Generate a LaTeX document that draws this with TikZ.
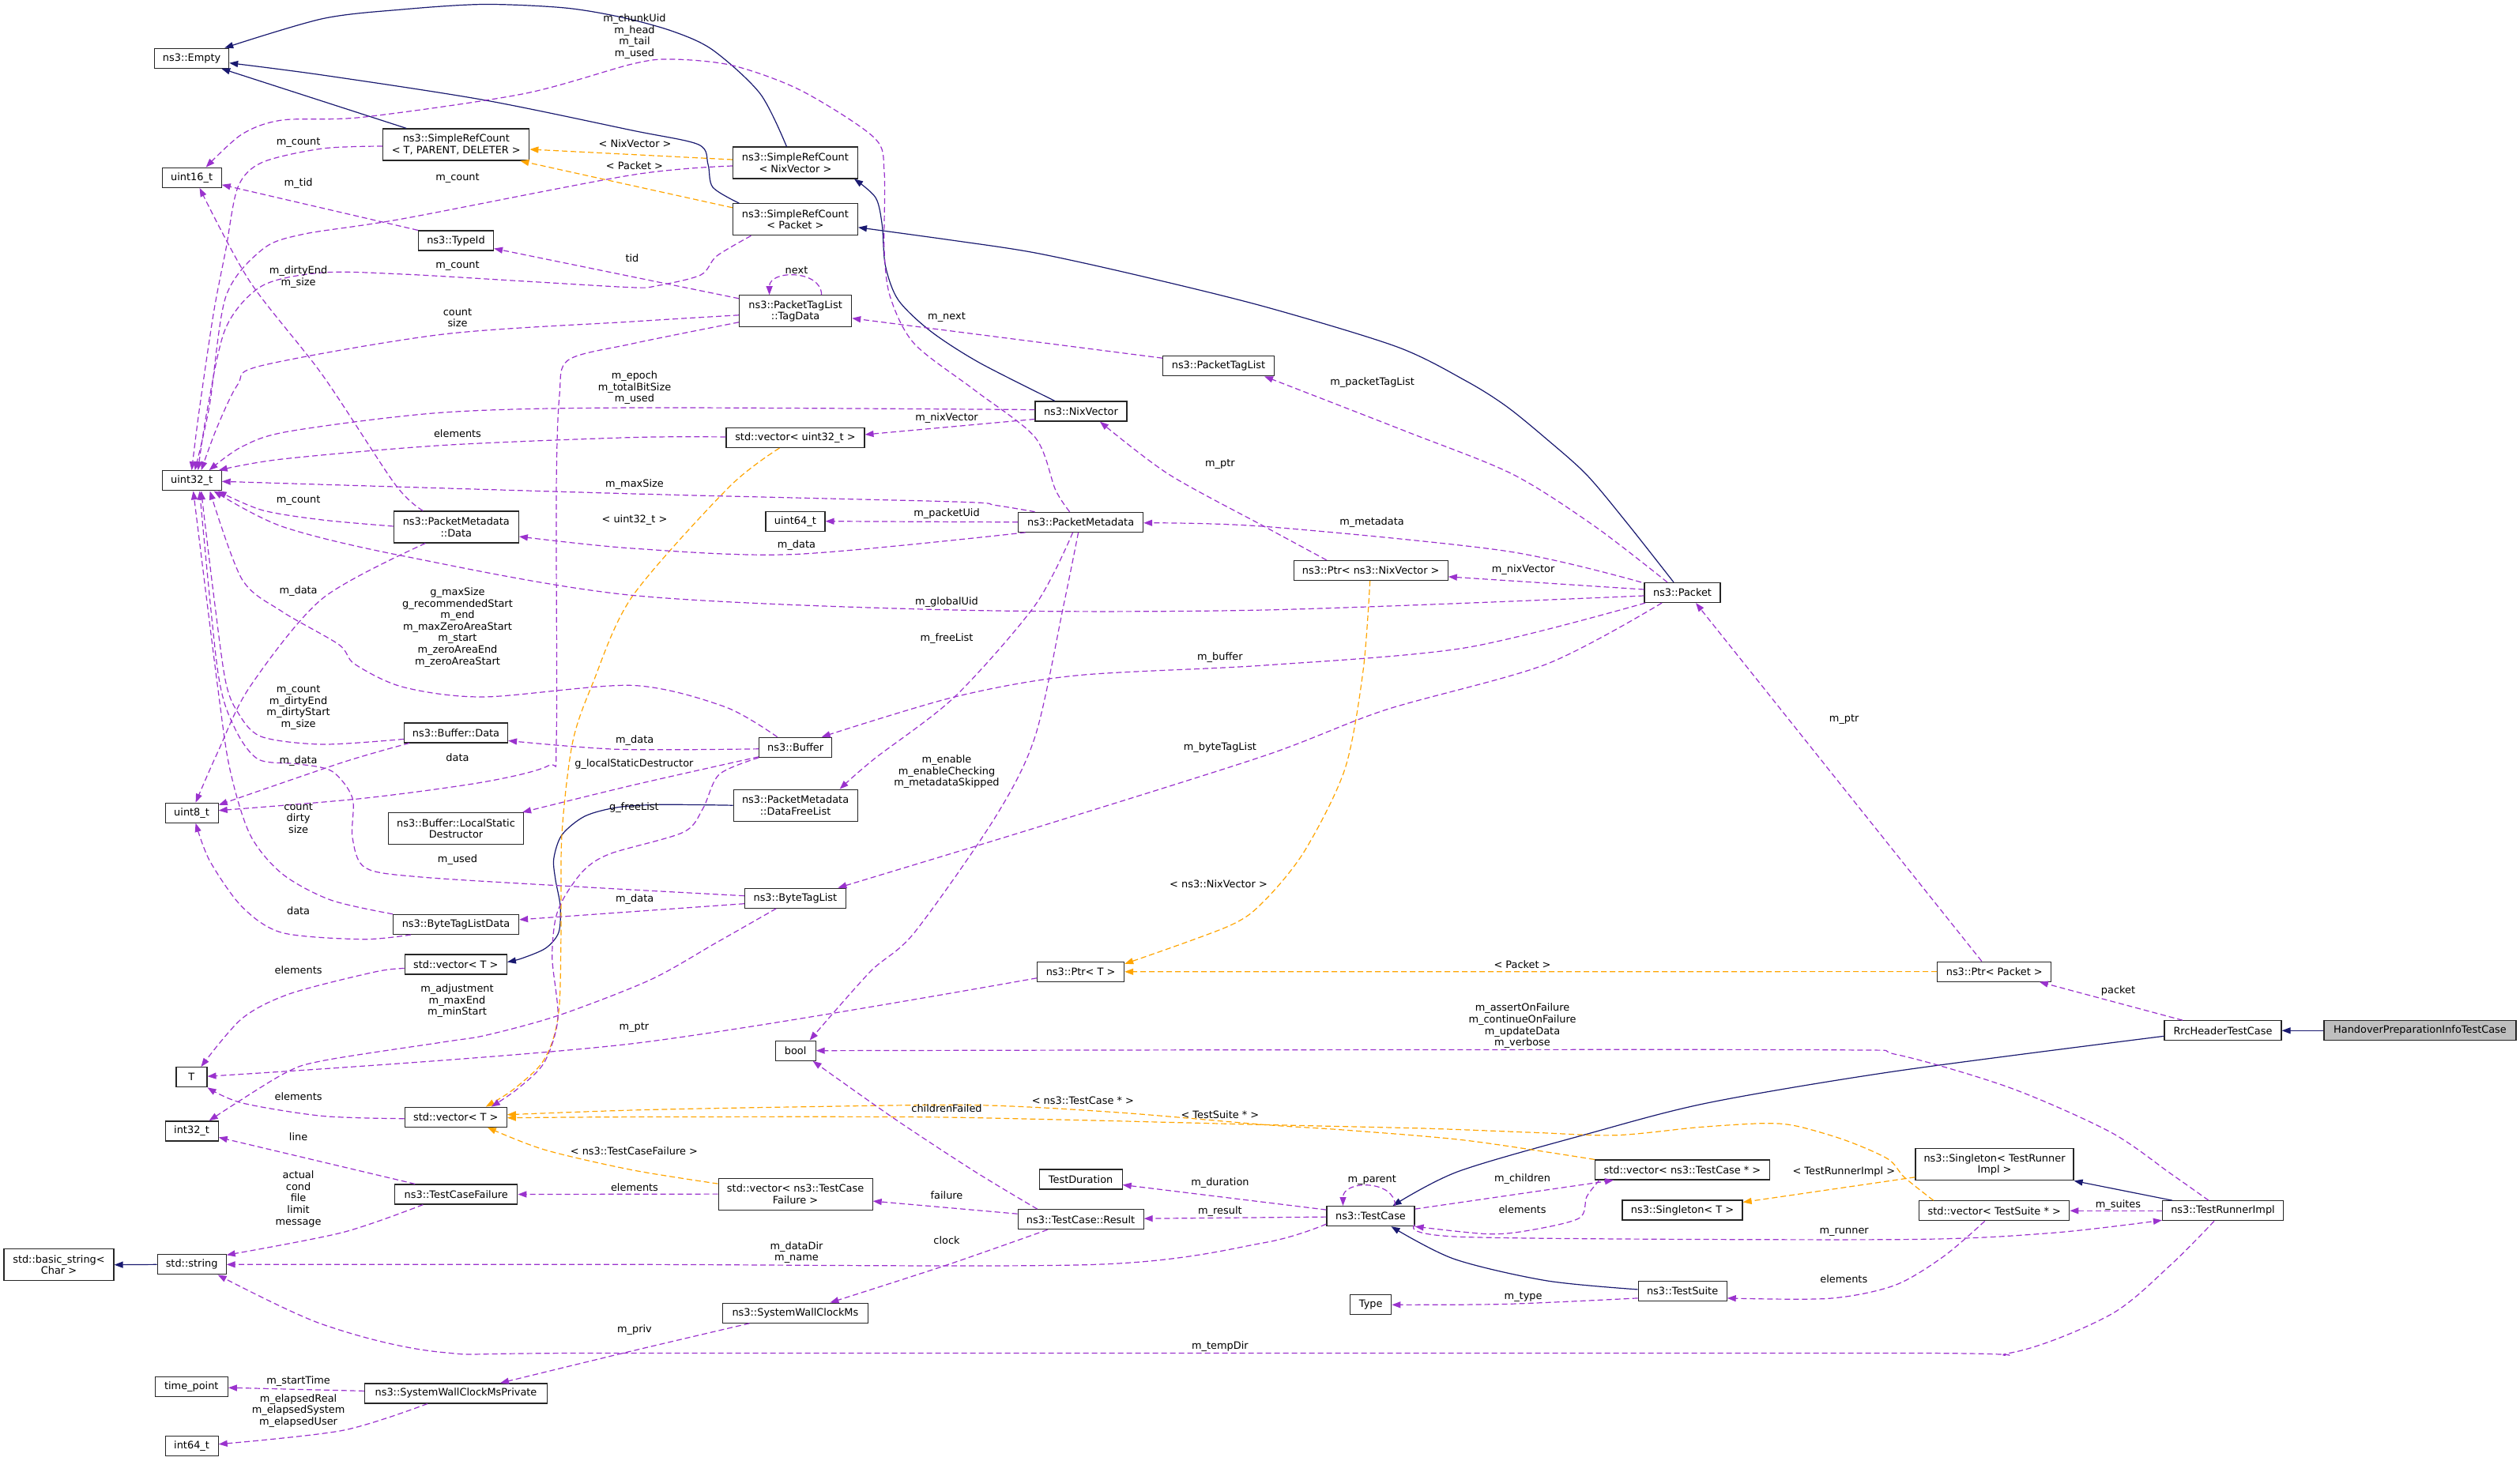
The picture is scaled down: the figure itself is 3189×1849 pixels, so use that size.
\documentclass[tikz,border=0pt]{standalone}
\usepackage{fontspec}
\setmainfont{DejaVu Sans}
\usepackage{tikz}
\usetikzlibrary{arrows.meta}
\definecolor{memcol}{HTML}{9A32CD}
\definecolor{inhcol}{HTML}{191970}
\definecolor{tplcol}{HTML}{FFA500}
\tikzset{>={Triangle[length=11pt,width=8pt]}}
\tikzset{cls/.style={draw=black!85, line width=1.2pt, fill=white, inner xsep=3pt, inner ysep=0pt, minimum height=25pt, align=center}}
\tikzset{cls2/.style={cls, minimum height=40pt}}
\tikzset{mem/.style={->, draw=memcol, line width=1.2pt, dash pattern=on 7pt off 4pt}}
\tikzset{tpl/.style={->, draw=tplcol, line width=1.2pt, dash pattern=on 7pt off 4pt}}
\tikzset{inh/.style={->, draw=inhcol, line width=1.2pt}}
\tikzset{lbl/.style={align=center, inner sep=0pt}}

\begin{document}
\begin{tikzpicture}[x=1pt, y=-1pt, font=\fontsize{12.9}{14.6}\selectfont]
\fill[white] (0,0) rectangle (3189,1849);
\useasboundingbox (0,0) rectangle (3189,1849);
% classes
\node[cls, minimum width=94pt] (emp) at (242.6,73.7) {ns3::Empty};
\node[cls, minimum width=75pt] (u16) at (242.6,224.8) {uint16\_t};
\node[cls2, minimum width=185pt] (srcT) at (577.3,183) {ns3::SimpleRefCount\\< T, PARENT, DELETER >};
\node[cls, minimum width=95pt] (typeid) at (577,304.5) {ns3::TypeId};
\node[cls, minimum width=75pt] (u32) at (242.6,608.3) {uint32\_t};
\node[cls2, minimum width=158pt] (srcNix) at (1006.4,206) {ns3::SimpleRefCount\\< NixVector >};
\node[cls2, minimum width=158pt] (srcPkt) at (1006.4,277.8) {ns3::SimpleRefCount\\< Packet >};
\node[cls2, minimum width=142pt] (tagData) at (1006.6,393.8) {ns3::PacketTagList\\::TagData};
\node[cls, minimum width=141pt] (ptl) at (1542,463.2) {ns3::PacketTagList};
\node[cls, minimum width=116pt] (nixv) at (1367.9,520.5) {ns3::NixVector};
\node[cls, minimum width=175pt] (vecU32) at (1006.4,554) {std::vector< uint32\_t >};
\node[cls2, minimum width=158pt] (pmData) at (577.3,667) {ns3::PacketMetadata\\::Data};
\node[cls, minimum width=131pt] (bufData) at (577,927.4) {ns3::Buffer::Data};
\node[cls, minimum width=67pt] (u8) at (242.6,1028.7) {uint8\_t};
\node[cls2, minimum width=171pt] (lsd) at (577,1048.6) {ns3::Buffer::LocalStatic\\Destructor};
\node[cls, minimum width=159pt] (btld) at (577,1169.9) {ns3::ByteTagListData};
\node[cls, minimum width=129pt] (vecT1) at (576.8,1220.5) {std::vector< T >};
\node[cls, minimum width=75pt] (u64) at (1006.4,659.7) {uint64\_t};
\node[cls, minimum width=158pt] (pm) at (1367.6,660.8) {ns3::PacketMetadata};
\node[cls, minimum width=92pt] (buf) at (1006.7,945.8) {ns3::Buffer};
\node[cls2, minimum width=157pt] (dfl) at (1006.6,1019.2) {ns3::PacketMetadata\\::DataFreeList};
\node[cls, minimum width=128pt] (btl) at (1006.4,1136.7) {ns3::ByteTagList};
\node[cls, minimum width=110pt] (ptrT) at (1367.6,1229.8) {ns3::Ptr< T >};
\node[cls, minimum width=195pt] (ptrNix) at (1734.7,721.9) {ns3::Ptr< ns3::NixVector >};
\node[cls, minimum width=96pt] (pkt) at (2129,750) {ns3::Packet};
\node[cls, minimum width=39pt] (tT) at (242.4,1363.2) {T};
\node[cls, minimum width=67pt] (i32) at (242.6,1431.4) {int32\_t};
\node[cls, minimum width=129pt] (vecT2) at (576.8,1413.7) {std::vector< T >};
\node[cls, minimum width=155pt] (tcf) at (577.3,1511.5) {ns3::TestCaseFailure};
\node[cls2, minimum width=139pt] (bstr) at (74.5,1600.7) {std::basic\_string<\\Char >};
\node[cls, minimum width=87pt] (str) at (242.6,1600.3) {std::string};
\node[cls, minimum width=92pt] (tp) at (242.3,1755.2) {time\_point};
\node[cls, minimum width=231pt] (swcmp) at (577,1763.4) {ns3::SystemWallClockMsPrivate};
\node[cls, minimum width=67pt] (i64) at (242.6,1829.7) {int64\_t};
\node[cls, minimum width=51pt] (bool) at (1006.6,1329.7) {bool};
\node[cls2, minimum width=195pt] (vecTcf) at (1006.6,1511.1) {std::vector< ns3::TestCase\\Failure >};
\node[cls, minimum width=105pt] (tdur) at (1367.6,1492.5) {TestDuration};
\node[cls, minimum width=159pt] (res) at (1367.6,1543.2) {ns3::TestCase::Result};
\node[cls, minimum width=184pt] (swcm) at (1006.4,1661.7) {ns3::SystemWallClockMs};
\node[cls, minimum width=111pt] (tc) at (1734.5,1539.1) {ns3::TestCase};
\node[cls, minimum width=221pt] (vecTc) at (2128.9,1480.5) {std::vector< ns3::TestCase * >};
\node[cls, minimum width=152pt] (sgT) at (2129,1531.5) {ns3::Singleton< T >};
\node[cls, minimum width=112pt] (ts) at (2129.1,1633.9) {ns3::TestSuite};
\node[cls, minimum width=52pt] (typ) at (1734.7,1651.3) {Type};
\node[cls, minimum width=144pt] (ptrPkt) at (2523.8,1229.6) {ns3::Ptr< Packet >};
\node[cls, minimum width=148pt] (rrc) at (2813,1304.3) {RrcHeaderTestCase};
\node[cls, minimum width=243pt, fill=black!25] (hpi) at (3062.5,1304.3) {HandoverPreparationInfoTestCase};
\node[cls2, minimum width=200pt] (sgTri) at (2524,1473.8) {ns3::Singleton< TestRunner\\Impl >};
\node[cls, minimum width=190pt] (vecTs) at (2523.7,1532.3) {std::vector< TestSuite * >};
\node[cls, minimum width=153pt] (tri) at (2813,1532.3) {ns3::TestRunnerImpl};
% inheritance
\draw[inh] plot[smooth, tension=.5] coordinates {([xshift=-11pt]srcNix.north) (962,118.6) (902,63.3) (851,39.5) (785.7,21.7) (714,9.9) (612,5.5) (510,11.9) (408,23.7) ([xshift=-6pt]emp.north east)};
\draw[inh] plot[smooth, tension=.5] coordinates {([xshift=-71pt]srcPkt.north) (902,237) (896,208) (884,183) (800,165) (612,126.5) (408,95) ([yshift=-6pt]emp.east)};
\draw[inh] ([xshift=-63pt]srcT.north) -- ([xshift=-10pt]emp.south east);
\draw[inh] plot[smooth, tension=.5] coordinates {([xshift=-33pt]nixv.north) (1238.8,458.7) (1177.6,419.1) (1136.7,379.6) (1120.4,336) (1116.3,284.7) (1108,250) ([xshift=-5pt]srcNix.south east)};
\draw[inh] plot[smooth, tension=.5] coordinates {([xshift=-11pt]pkt.north) (2059,662) (2008,601) (1957,555.5) (1906,514) (1855,482) (1768,439) (1600,388) (1438,348) (1310,320) (1208,304.5) ([yshift=-10pt]srcPkt.east)};
\draw[inh] plot[smooth, tension=.5] coordinates {(dfl.west) (835.6,1018.3) (781.7,1021.7) (740,1033) (711,1056.7) (700.8,1086.7) (702.9,1113) (709,1146.7) (707,1180) (690.5,1200) (660,1213) ([yshift=3pt]vecT1.east)};
\draw[inh] (str.west) -- (bstr.east);
\draw[inh] plot[smooth, tension=.5] coordinates {([yshift=-7pt]rrc.west) (2400,1355.5) (2161,1395.8) (2008,1435.3) (1845,1482.7) ([xshift=28pt]tc.north)};
\draw[inh] (hpi.west) -- (rrc.east);
\draw[inh] plot[smooth, tension=.5] coordinates {([yshift=2pt]ts.west) (1957,1620.8) (1839.8,1593.2) ([xshift=26pt]tc.south)};
\draw[inh] ([xshift=-64pt]tri.north) -- (sgTri.south east);
% template instances
\draw[tpl] ([yshift=4pt]srcNix.west) -- ([yshift=-6pt]srcT.east);
\draw[tpl] ([yshift=15pt]srcPkt.west) -- ([xshift=-12pt]srcT.south east);
\draw[tpl] plot[smooth, tension=.5] coordinates {([xshift=-20pt]vecU32.south) (922,617) (800,755) (750,865) (724.5,940) (711,1056) (710,1180) (708,1270) (700,1315) (683.7,1348) (648,1380) ([xshift=38pt]vecT2.north)};
\draw[tpl] plot[smooth, tension=.5] coordinates {([xshift=-1pt]ptrNix.south) (1725,848.8) (1702,973) (1651,1076.8) (1600,1140) (1555,1172) ([yshift=10pt]ptrT.east)};
\draw[tpl] (ptrPkt.west) -- (ptrT.east);
\draw[tpl] plot[smooth, tension=.5] coordinates {([yshift=13pt]vecTcf.west) (800,1480.7) (688.8,1455) ([xshift=40pt]vecT2.south)};
\draw[tpl] plot[smooth, tension=.5] coordinates {(vecTc.north west) (1855,1443.2) (1700,1430) (1600,1423.4) (1412,1407.7) (1233.7,1398.6) (1000,1401) (800,1405) ([yshift=3pt]vecT2.east)};
\draw[tpl] plot[smooth, tension=.5] coordinates {([xshift=-77pt]vecTs.north) (2410,1490) (2389,1466.7) (2335,1443) (2273,1425) (2231.7,1421.7) (2148.8,1426.7) (2045,1436.7) (1941.5,1433.3) (1800,1428) (1600,1423.4) (1361,1417.5) (1157,1413.6) (800,1413.6) ([yshift=-1pt]vecT2.east)};
\draw[tpl] ([yshift=-16pt]sgTri.west) -- ([yshift=10pt]sgT.east);
% members
\draw[mem] plot[smooth, tension=.5] coordinates {([yshift=-2pt]srcT.west) (408,188) (331.6,205.6) (301,237) (285.7,316.3) (270.4,395.4) (252,520) (u32.north)};
\draw[mem] plot[smooth, tension=.5] coordinates {([yshift=-4pt]srcNix.west) (800,221.4) (510,276.8) (382.7,296.6) (331.6,316) (285.7,375.6) (265,514) ([xshift=4pt]u32.north)};
\draw[mem] plot[smooth, tension=.5] coordinates {([xshift=-56pt]srcPkt.south) (907,324) (886.7,348) (830.6,361.8) (800,363.8) (663,355.9) (510,347) (408,345) (331.6,361.8) (285.7,415) (262,520) ([xshift=8pt]u32.north)};
\draw[mem] (typeid.north west) -- ([yshift=-9pt]u16.east);
\draw[mem] ([yshift=16pt]tagData.west) -- ([yshift=-10pt]typeid.east);
\draw[mem] ([xshift=33pt]tagData.north) .. controls +(0,-32) and +(0,-32) .. ([xshift=-33pt]tagData.north);
\draw[mem] plot[smooth, tension=.5] coordinates {([yshift=-5pt]tagData.west) (800,407) (561,423) (331.6,462.6) (301,486.4) (275,540) ([xshift=12pt]u32.north)};
\draw[mem] plot[smooth, tension=.5] coordinates {([yshift=2pt]nixv.west) (800,516) (561,522) (367,545.7) (306,565.4) ([xshift=22pt]u32.north)};
\draw[mem] plot[smooth, tension=.5] coordinates {([yshift=1pt]vecU32.west) (800,553.6) (561,563.5) (357,581) ([xshift=-4pt]u32.north east)};
\draw[mem] ([yshift=-10pt]nixv.west) -- ([yshift=4pt]vecU32.east);
\draw[mem] ([yshift=10pt]ptl.west) -- ([yshift=-9pt]tagData.east);
\draw[mem] plot[smooth, tension=.5] coordinates {([xshift=-19pt]pkt.north) (2018,666) (1913.8,600) (1778.6,545.7) ([xshift=58pt]ptl.south)};
\draw[mem] plot[smooth, tension=.5] coordinates {([xshift=-56pt]ptrNix.north) (1600,666.3) (1478.6,600) ([xshift=24pt]nixv.south)};
\draw[mem] plot[smooth, tension=.5] coordinates {([xshift=-58pt]pm.north) (1259,639.4) (1208,635) (800,624.9) ([yshift=-1pt]u32.east)};
\draw[mem] (pm.west) -- (u64.east);
\draw[mem] plot[smooth, tension=.5] coordinates {([xshift=-70pt]pm.south) (1004,701.6) (800,694) ([yshift=-12pt]pmData.east)};
\draw[mem] plot[smooth, tension=.5] coordinates {([xshift=-10pt]pm.south) (1310,765.8) (1208,882) (1106,960.7) ([xshift=56pt]dfl.north)};
\draw[mem] plot[smooth, tension=.5] coordinates {([xshift=-3pt]pm.south) (1346,765.8) (1310,931.7) (1259,1035) (1157,1180.4) (1101,1230) ([xshift=18pt]bool.north)};
\draw[mem] plot[smooth, tension=.5] coordinates {([xshift=-14pt]pm.north) (1335.7,620) (1310,553.6) (1233.7,494) (1157,435) (1126.5,375.6) (1119,316) (1119,217.5) (1106,174) (1014,114.7) (927.6,83) (851,75) (800,81) (663,118.6) (459,148.3) (357,152) (306,170) ([xshift=18pt]u16.north)};
\draw[mem] plot[smooth, tension=.5] coordinates {([xshift=-52pt]pkt.north) (1906,697.4) (1600,666.3) ([yshift=-1pt]pm.east)};
\draw[mem] ([yshift=4pt]pkt.west) -- ([yshift=-8pt]ptrNix.east);
\draw[mem] plot[smooth, tension=.5] coordinates {([yshift=-4pt]pkt.west) (1600,772) (1208,772) (800,753.4) (510,703.6) (357,666.3) ([xshift=28pt]u32.south)};
\draw[mem] plot[smooth, tension=.5] coordinates {([xshift=-47pt]pkt.south) (1855,819.7) (1600,842) (1361,855) (1208,882) ([xshift=33pt]buf.north)};
\draw[mem] plot[smooth, tension=.5] coordinates {([xshift=-26pt]pkt.south) (1957,840.5) (1753,898.5) (1600,956.5) (1310,1047.8) ([xshift=54pt]btl.north)};
\draw[mem] ([xshift=-16pt]ptrPkt.north) -- ([xshift=17pt]pkt.south);
\draw[mem] ([xshift=-51pt]rrc.north) -- ([xshift=57pt]ptrPkt.south);
\draw[mem] plot[smooth, tension=.5] coordinates {([xshift=-23pt]buf.north) (917,894.4) (800,867.4) (612,882) (510,869.5) (449,840.5) (428.6,815.6) (357,774) (306,732.7) ([xshift=23pt]u32.south)};
\draw[mem] plot[smooth, tension=.5] coordinates {([yshift=-8pt]bufData.west) (408,942) (330,932) (300,900) (285,860) (270,750) ([xshift=12pt]u32.south)};
\draw[mem] plot[smooth, tension=.5] coordinates {([xshift=-59pt]bufData.south) (433.7,964.8) ([yshift=10pt]u8.east)};
\draw[mem] plot[smooth, tension=.5] coordinates {([yshift=-2pt]buf.west) (781.7,948.3) ([yshift=-10pt]bufData.east)};
\draw[mem] plot[smooth, tension=.5] coordinates {([yshift=-12pt]buf.west) (802.4,993.3) ([xshift=-2pt]lsd.north east)};
\draw[mem] plot[smooth, tension=.5] coordinates {(buf.south west) (910.2,980) (889.5,1023.3) (864.6,1053.3) (773.4,1080) (740.2,1100) (715.3,1133.3) (702.9,1163.3) (698.8,1213.3) (706,1289) (688.8,1344.5) (655,1378) ([xshift=45pt]vecT2.north)};
\draw[mem] ([yshift=-7pt]btl.west) -- ([yshift=6pt]btld.east);
\draw[mem] plot[smooth, tension=.5] coordinates {([yshift=3pt]btl.west) (740.2,1122.7) (533,1110) (462.4,1098.3) (446,1060) (446,1010) (420,976) (377.6,966.9) (326.5,960.7) (296,919.2) (275.5,848.8) ([xshift=10pt]u32.south)};
\draw[mem] plot[smooth, tension=.5] coordinates {([xshift=-24pt]btl.south) (906,1193.3) (823,1240) (707,1285) (615.8,1310) (561,1318.8) (408,1342.5) (357,1360) ([xshift=22pt]i32.north)};
\draw[mem] plot[smooth, tension=.5] coordinates {([xshift=-80pt]btld.north) (418.4,1139) (357,1105.8) (316.3,1056) (290.8,973) (275.5,869.5) ([xshift=2pt]u32.south)};
\draw[mem] plot[smooth, tension=.5] coordinates {([xshift=-57pt]btld.south) (459,1188.7) (357,1180.4) (306,1147.3) (265.3,1089.2) ([xshift=5pt]u8.south)};
\draw[mem] plot[smooth, tension=.5] coordinates {([yshift=1pt]pmData.west) (408,658) (331.6,645.6) ([xshift=33pt]u32.south)};
\draw[mem] plot[smooth, tension=.5] coordinates {([xshift=-42pt]pmData.north) (500,613) (408,474.5) (316,356) ([xshift=10pt]u16.south)};
\draw[mem] plot[smooth, tension=.5] coordinates {([xshift=-39pt]pmData.south) (408,757.5) (316,869.5) (275.5,952) ([xshift=5pt]u8.north)};
\draw[mem] plot[smooth, tension=.5] coordinates {([yshift=-14pt]tagData.west) (800,435) (719.4,455.5) (708,500) (704,620) (704,940) (694,969) (612,989.7) (459,1010.4) ([yshift=3pt]u8.east)};
\draw[mem] plot[smooth, tension=.5] coordinates {([yshift=-5pt]vecT1.west) (474.5,1230) (367,1257.6) (306,1289.2) ([xshift=12pt]tT.north)};
\draw[mem] plot[smooth, tension=.5] coordinates {([yshift=-2pt]vecT2.west) (408,1412.4) (306,1395.8) (tT.south east)};
\draw[mem] plot[smooth, tension=.5] coordinates {([yshift=-8pt]ptrT.west) (800,1320.8) ([yshift=1pt]tT.east)};
\draw[mem] ([xshift=-52pt]tcf.north) -- ([yshift=-8pt]i32.east);
\draw[mem] plot[smooth, tension=.5] coordinates {([xshift=-42pt]tcf.south) (433.7,1559.7) ([yshift=12pt]str.east)};
\draw[mem] (vecTcf.west) -- (tcf.east);
\draw[mem] ([yshift=7pt]res.west) -- ([yshift=-9pt]vecTcf.east);
\draw[mem] plot[smooth, tension=.5] coordinates {([xshift=-55pt]res.north) (1233.7,1482.7) (1131.6,1415.6) ([xshift=22pt]bool.south)};
\draw[mem] plot[smooth, tension=.5] coordinates {([xshift=-42pt]res.south) (1198,1601) ([xshift=44pt]swcm.north)};
\draw[mem] plot[smooth, tension=.5] coordinates {([xshift=-58pt]swcm.south) (800,1709.7) ([xshift=56pt]swcmp.north)};
\draw[mem] ([yshift=3pt]swcmp.west) -- ([yshift=-1pt]tp.east);
\draw[mem] plot[smooth, tension=.5] coordinates {([xshift=-36pt]swcmp.south) (433.7,1810.3) ([yshift=2pt]i64.east)};
\draw[mem] ([yshift=8pt]tc.west) -- ([yshift=-7pt]tdur.east);
\draw[mem] ([yshift=-1pt]tc.west) -- ([yshift=1pt]res.east);
\draw[mem] plot[smooth, tension=.5] coordinates {([yshift=-10pt]tc.west) (1600,1572.7) (1386.7,1600.3) (800,1600.3) (str.east)};
\draw[mem] ([xshift=31pt]tc.north) .. controls +(0,-33) and +(0,-33) .. ([xshift=-35pt]tc.north);
\draw[mem] ([yshift=9pt]tc.east) -- ([xshift=-87pt]vecTc.south);
\draw[mem] plot[smooth, tension=.5] coordinates {([xshift=-105pt]vecTc.south) (2008,1514.3) (1998,1541.9) (1931.6,1557.7) (1880.6,1561.6) (tc.south east)};
\draw[mem] plot[smooth, tension=.5] coordinates {([yshift=-11pt]tc.east) (1855,1565.6) (2400,1568.7) (2593.9,1560.6) ([yshift=-12pt]tri.west)};
\draw[mem] (tri.west) -- (vecTs.east);
\draw[mem] plot[smooth, tension=.5] coordinates {([xshift=-12pt]vecTs.south) (2459.7,1590) (2397.5,1626.7) (2314.6,1643.3) ([yshift=-9pt]ts.east)};
\draw[mem] plot[smooth, tension=.5] coordinates {([xshift=-18pt]tri.north) (2746.8,1485.2) (2670.3,1432.5) (2542.9,1376.4) (2400,1334.6) (2314,1328.7) (1600,1328.7) (bool.east)};
\draw[mem] plot[smooth, tension=.5] coordinates {([xshift=-11pt]tri.south) (2746.8,1600.9) (2670.3,1664) (2542.9,1712.4) (2390,1712.4) (800,1712.4) (561,1711.6) (408,1676) ([xshift=33pt]str.south)};
\draw[mem] plot[smooth, tension=.5] coordinates {([yshift=-9pt]ts.west) (1906,1650.4) (typ.east)};
% labels
\node[lbl] (lChunk) at (803,46.2) {m\_chunkUid\\m\_head\\m\_tail\\m\_used};
\node[lbl] (lNixT) at (803.6,181.9) {< NixVector >};
\node[lbl] (lPktT) at (803,209.6) {< Packet >};
\node[lbl] (lCountA) at (377.6,180.7) {m\_count};
\node[lbl] (lCountB) at (579,225.8) {m\_count};
\node[lbl] (lTid) at (377.6,232.5) {m\_tid};
\node[lbl] (lTidB) at (800,326.2) {tid};
\node[lbl] (lCountC) at (579,336.5) {m\_count};
\node[lbl] (lNext) at (1008,341.6) {next};
\node[lbl] (lDirty) at (377.6,350.5) {m\_dirtyEnd\\m\_size};
\node[lbl] (lCntSize) at (579,402) {count\\size};
\node[lbl] (lMNext) at (1198,401.7) {m\_next};
\node[lbl] (lPtl) at (1736.7,484.4) {m\_packetTagList};
\node[lbl] (lEpoch) at (803,490.7) {m\_epoch\\m\_totalBitSize\\m\_used};
\node[lbl] (lElemA) at (579,548.8) {elements};
\node[lbl] (lNixA) at (1198,528.7) {m\_nixVector};
\node[lbl] (lPtrA) at (1543.9,587.2) {m\_ptr};
\node[lbl] (lMax) at (803,613) {m\_maxSize};
\node[lbl] (lU32T) at (803,658) {< uint32\_t >};
\node[lbl] (lCountD) at (377.6,633.2) {m\_count};
\node[lbl] (lUid) at (1198,650.6) {m\_packetUid};
\node[lbl] (lDataA) at (1008,690.4) {m\_data};
\node[lbl] (lMeta) at (1736,661) {m\_metadata};
\node[lbl] (lNixB) at (1927.6,721.5) {m\_nixVector};
\node[lbl] (lGuid) at (1198,762.5) {m\_globalUid};
\node[lbl] (lDataB) at (377.6,748.4) {m\_data};
\node[lbl] (lBufU) at (579,794) {g\_maxSize\\g\_recommendedStart\\m\_end\\m\_maxZeroAreaStart\\m\_start\\m\_zeroAreaEnd\\m\_zeroAreaStart};
\node[lbl] (lFree) at (1198,808.5) {m\_freeList};
\node[lbl] (lBuf) at (1543.9,832.2) {m\_buffer};
\node[lbl] (lBdU) at (377.6,895.6) {m\_count\\m\_dirtyEnd\\m\_dirtyStart\\m\_size};
\node[lbl] (lDataC) at (803.2,936.7) {m\_data};
\node[lbl] (lBtl) at (1543.9,946.6) {m\_byteTagList};
\node[lbl] (lDataD) at (377.6,962.8) {m\_data};
\node[lbl] (lDataE) at (579,958.6) {data};
\node[lbl] (lLsd) at (802.4,966.7) {g\_localStaticDestructor};
\node[lbl] (lEnable) at (1198,977) {m\_enable\\m\_enableChecking\\m\_metadataSkipped};
\node[lbl] (lCds) at (377.6,1035.3) {count\\dirty\\size};
\node[lbl] (lGfree) at (802.4,1022.3) {g\_freeList};
\node[lbl] (lUsed) at (579,1088.4) {m\_used};
\node[lbl] (lDataF) at (803.2,1138.3) {m\_data};
\node[lbl] (lDataG) at (377.6,1152.7) {data};
\node[lbl] (lNixT2) at (1542,1118.2) {< ns3::NixVector >};
\node[lbl] (lElemB) at (377.6,1228) {elements};
\node[lbl] (lAdj) at (578.5,1266.7) {m\_adjustment\\m\_maxEnd\\m\_minStart};
\node[lbl] (lPtrB) at (802.4,1300.7) {m\_ptr};
\node[lbl] (lPktT2) at (1926.5,1221) {< Packet >};
\node[lbl] (lPtrC) at (2333.7,910) {m\_ptr};
\node[lbl] (lPacket) at (2680.5,1253.7) {packet};
\node[lbl] (lAssert) at (1926.5,1298.5) {m\_assertOnFailure\\m\_continueOnFailure\\m\_updateData\\m\_verbose};
\node[lbl] (lElemC) at (377.6,1387.9) {elements};
\node[lbl] (lTcT) at (1370.4,1392.7) {< ns3::TestCase * >};
\node[lbl] (lTsT) at (1543.9,1410.4) {< TestSuite * >};
\node[lbl] (lChild) at (1198,1402.5) {childrenFailed};
\node[lbl] (lTcfT) at (802.4,1456.2) {< ns3::TestCaseFailure >};
\node[lbl] (lTriT) at (2333.3,1482.7) {< TestRunnerImpl >};
\node[lbl] (lLine) at (377.6,1438.4) {line};
\node[lbl] (lElemD) at (803,1502.4) {elements};
\node[lbl] (lDur) at (1543.9,1496.9) {m\_duration};
\node[lbl] (lParent) at (1736.2,1493.7) {m\_parent};
\node[lbl] (lChildren) at (1926.5,1492.5) {m\_children};
\node[lbl] (lFail) at (1198,1513) {failure};
\node[lbl] (lRes) at (1543.9,1532.8) {m\_result};
\node[lbl] (lElemE) at (1926.5,1530.8) {elements};
\node[lbl] (lActual) at (377.6,1517.4) {actual\\cond\\file\\limit\\message};
\node[lbl] (lDir) at (1008,1585) {m\_dataDir\\m\_name};
\node[lbl] (lClock) at (1198,1569.5) {clock};
\node[lbl] (lRunner) at (2333.7,1558.9) {m\_runner};
\node[lbl] (lSuites) at (2680.5,1524.8) {m\_suites};
\node[lbl] (lElemF) at (2333.3,1618.3) {elements};
\node[lbl] (lType) at (1927.6,1641.8) {m\_type};
\node[lbl] (lPriv) at (803,1683) {m\_priv};
\node[lbl] (lTemp) at (1543.9,1704.5) {m\_tempDir};
\node[lbl] (lStart) at (377.6,1748.4) {m\_startTime};
\node[lbl] (lElapsed) at (377.6,1785.5) {m\_elapsedReal\\m\_elapsedSystem\\m\_elapsedUser};
\end{tikzpicture}
\end{document}
